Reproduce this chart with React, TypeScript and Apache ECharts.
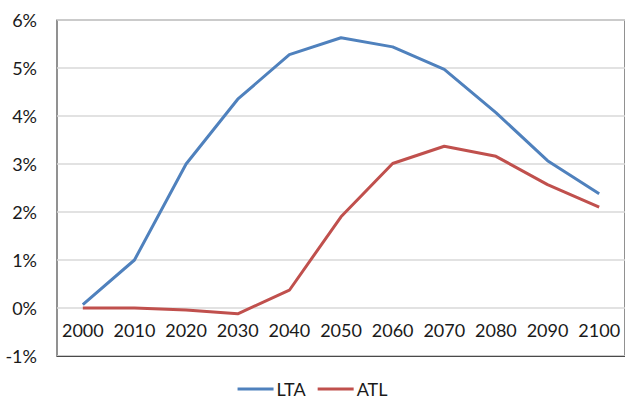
import React, { useEffect, useRef } from "react";
import * as echarts from "echarts";

const years = ["2000", "2010", "2020", "2030", "2040", "2050", "2060", "2070", "2080", "2090", "2100"];
const lta = [0.07, 1.0, 3.0, 4.35, 5.28, 5.63, 5.44, 4.97, 4.07, 3.07, 2.38];
const atl = [0.0, 0.0, -0.04, -0.12, 0.37, 1.9, 3.01, 3.37, 3.16, 2.57, 2.1];
const seriesNames = ["LTA", "ATL"];

const FONT = "Lato, 'Open Sans', sans-serif";

export default function App() {
  const ref = useRef<HTMLDivElement>(null);
  useEffect(() => {
    if (!ref.current) return;
    const chart = echarts.init(ref.current, null, { renderer: "svg" });
    chart.setOption({
      animation: false,
      backgroundColor: "#ffffff",
      textStyle: { fontFamily: FONT },
      grid: {
        left: 57,
        top: 20,
        right: -1,
        bottom: 45,
        show: true,
        borderColor: "#4a4a4a",
        borderWidth: 1.2,
        backgroundColor: "transparent",
      },
      legend: {
        top: 380,
        left: "center",
        padding: 0,
        itemWidth: 36,
        itemHeight: 3,
        itemGap: 12,
        icon: "rect",
        textStyle: { fontSize: 18, lineHeight: 18, color: "#1a1a1a", fontFamily: FONT, padding: [0, 0, 0, -2] },
        data: seriesNames,
      },
      xAxis: {
        type: "category",
        data: years,
        boundaryGap: true,
        axisLine: { show: true, onZero: false, lineStyle: { color: "#4a4a4a", width: 1.2 } },
        axisTick: { show: false },
        axisLabel: { fontSize: 18, color: "#1a1a1a", margin: -35, interval: 0, fontFamily: FONT },
        splitLine: { show: false },
      },
      yAxis: {
        type: "value",
        min: -1,
        max: 6,
        interval: 1,
        axisLine: { show: false },
        axisTick: { show: false },
        axisLabel: { fontSize: 18, color: "#1a1a1a", margin: 20, formatter: "{value}%", fontFamily: FONT },
        splitLine: { show: true, lineStyle: { color: "#d9d9d9", width: 1.5 } },
      },
      series: [
        {
          name: seriesNames[0],
          type: "line",
          data: lta,
          symbol: "none",
          lineStyle: { color: "#4f81bd", width: 3 },
          itemStyle: { color: "#4f81bd" },
          z: 3,
        },
        {
          name: seriesNames[1],
          type: "line",
          data: atl,
          symbol: "none",
          lineStyle: { color: "#c0504d", width: 3 },
          itemStyle: { color: "#c0504d" },
          z: 2,
        },
      ],
    });
    return () => chart.dispose();
  }, []);
  return (
    <div
      ref={ref}
      style={{ position: "fixed", left: 0, top: 0, width: 625, height: 401, overflow: "hidden" }}
    />
  );
}
